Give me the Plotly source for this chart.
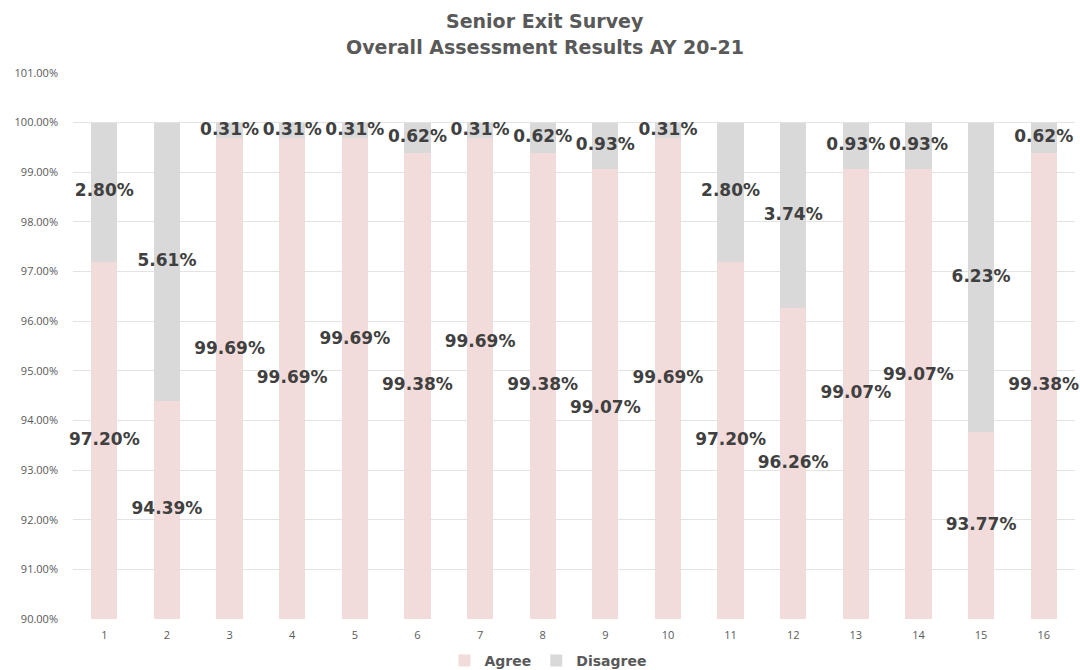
import plotly.graph_objects as go

categories = [str(i) for i in range(1, 17)]
agree = [97.20, 94.39, 99.69, 99.69, 99.69, 99.38, 99.69, 99.38, 99.07, 99.69, 97.20, 96.26, 99.07, 99.07, 93.77, 99.38]
disagree = [2.80, 5.61, 0.31, 0.31, 0.31, 0.62, 0.31, 0.62, 0.93, 0.31, 2.80, 3.74, 0.93, 0.93, 6.23, 0.62]
title_lines = ["Senior Exit Survey", "Overall Assessment Results AY 20-21"]

# manual label nudges (percentage points) as in the source chart
agree_label_nudge = [0, 0, 0.58, 0, 0.78, 0, 0.72, 0, -0.30, 0, 0, 0, 0, 0.36, 0, 0]

Y_MIN, Y_MAX = 90, 101
AGREE_COLOR = "#F2DCDB"
DIS_COLOR = "#D9D9D9"
LABEL_COLOR = "#404040"
TEXT_GRAY = "#595959"
LABEL_FONT = dict(family="DejaVu Sans", size=17, color=LABEL_COLOR)

fig = go.Figure()
fig.add_trace(go.Bar(x=categories, y=agree, name="<b>Agree</b>", marker=dict(color=AGREE_COLOR, line=dict(width=0))))
fig.add_trace(go.Bar(x=categories, y=disagree, name="<b>Disagree</b>", marker=dict(color=DIS_COLOR, line=dict(width=0))))

agree_y = [(Y_MIN + a) / 2 + n for a, n in zip(agree, agree_label_nudge)]
dis_y = [a + d / 2 for a, d in zip(agree, disagree)]
fig.add_trace(go.Scatter(x=categories, y=agree_y, mode="text",
                         text=["<b>%.2f%%</b>" % v for v in agree],
                         textfont=LABEL_FONT, showlegend=False, hoverinfo="skip", cliponaxis=False))
fig.add_trace(go.Scatter(x=categories, y=dis_y, mode="text",
                         text=["<b>%.2f%%</b>" % v for v in disagree],
                         textfont=LABEL_FONT, showlegend=False, hoverinfo="skip", cliponaxis=False))

PLOT_TOP, PLOT_BOTTOM = 73, 619
PLOT_H = PLOT_BOTTOM - PLOT_TOP
for line, ypx in zip(title_lines, [21, 47]):
    fig.add_annotation(text="<b>%s</b>" % line, xref="paper", yref="paper",
                       x=(545 - 73) / 1002, y=1 + (PLOT_TOP - ypx) / PLOT_H,
                       xanchor="center", yanchor="middle", showarrow=False,
                       font=dict(family="DejaVu Sans", size=19, color=TEXT_GRAY))

fig.update_layout(
    width=1080, height=670,
    barmode="stack", bargap=0.58,
    plot_bgcolor="white", paper_bgcolor="white",
    margin=dict(l=73, r=5, t=PLOT_TOP, b=670 - PLOT_BOTTOM, autoexpand=False),
    legend=dict(orientation="h", x=(548 - 73) / 1002, xanchor="center",
                y=-(661 - PLOT_BOTTOM) / PLOT_H, yanchor="middle",
                font=dict(family="DejaVu Sans", size=14, color=TEXT_GRAY),
                itemwidth=30, traceorder="normal"),
    xaxis=dict(type="category", range=[-0.5, len(categories) - 0.5], showgrid=False,
               ticks="", showline=False, automargin=False, ticklabelstandoff=8,
               tickfont=dict(family="Open Sans", size=11, color=TEXT_GRAY)),
    yaxis=dict(range=[Y_MIN, Y_MAX], dtick=1, tickformat=".2f", ticksuffix="%",
               showgrid=True, gridcolor="#E3E3E3", gridwidth=1, zeroline=False,
               showline=False, ticks="", automargin=False, ticklabelstandoff=14,
               tickfont=dict(family="Open Sans", size=11, color=TEXT_GRAY)),
)
fig.write_html("out.html")
